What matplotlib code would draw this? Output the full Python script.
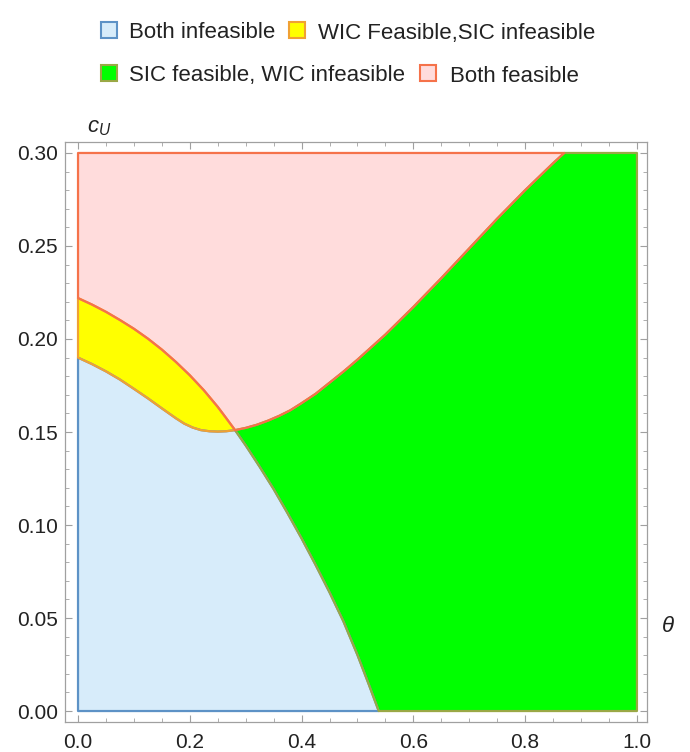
import matplotlib
matplotlib.use("Agg")
import matplotlib.pyplot as plt
from matplotlib.patches import Rectangle
from matplotlib.ticker import MultipleLocator

plt.rcParams['font.family'] = ['Liberation Sans', 'DejaVu Sans']
plt.rcParams['mathtext.fontset'] = 'custom'
plt.rcParams['mathtext.it'] = 'Liberation Sans:italic'
plt.rcParams['mathtext.rm'] = 'Liberation Sans'

# SIC boundary: top of the yellow band, then the blue / green edge
sic_left_x = [0.0, 0.025, 0.05, 0.075, 0.10, 0.125, 0.15, 0.175, 0.20, 0.225, 0.25, 0.265, 0.281]
sic_left_y = [0.222, 0.2185, 0.2146, 0.2102, 0.2055, 0.2002, 0.1943, 0.1877, 0.1805, 0.1725,
              0.1635, 0.1575, 0.151]
sic_right_x = [0.281, 0.30, 0.325, 0.35, 0.375, 0.40, 0.425, 0.45, 0.475, 0.50, 0.52, 0.538]
sic_right_y = [0.151, 0.1428, 0.1313, 0.1193, 0.1063, 0.0928, 0.0786, 0.0638, 0.0481, 0.0301,
               0.0145, 0.0]

# WIC boundary: bottom of the yellow band, then the pink / green edge
wic_left_x = [0.0, 0.025, 0.05, 0.075, 0.10, 0.125, 0.15, 0.175, 0.19, 0.205, 0.22, 0.235,
              0.25, 0.265, 0.281]
wic_left_y = [0.190, 0.1865, 0.1826, 0.1782, 0.1732, 0.1681, 0.1627, 0.1574, 0.1545, 0.1524,
              0.1510, 0.1504, 0.1502, 0.1504, 0.151]
wic_right_x = [0.281, 0.30, 0.32, 0.34, 0.36, 0.38, 0.40, 0.425, 0.45, 0.475, 0.50, 0.55,
               0.60, 0.65, 0.70, 0.75, 0.80, 0.85, 0.87]
wic_right_y = [0.151, 0.1522, 0.1539, 0.1561, 0.1587, 0.1617, 0.1655, 0.1705, 0.1765, 0.1825,
               0.1889, 0.2024, 0.2172, 0.2327, 0.2487, 0.2647, 0.2800, 0.2945, 0.300]

x_max = 1.0
y_max = 0.30

labels = ["Both infeasible", "WIC Feasible,SIC infeasible",
          "SIC feasible, WIC infeasible", "Both feasible"]
fills = ["#d7ecfa", "#ffff00", "#00ff00", "#ffdcdc"]
edges = ["#5d92c6", "#f0a133", "#9aa845", "#f5724a"]


def px(x):
    return x / 690


def py(y):
    return 1 - y / 752


# region outlines built from the boundary lists
blue_x = [0.0] + wic_left_x + sic_right_x[1:] + [0.0]
blue_y = [0.0] + wic_left_y + sic_right_y[1:] + [0.0]
yellow_x = wic_left_x + sic_left_x[::-1]
yellow_y = wic_left_y + sic_left_y[::-1]
pink_x = sic_left_x + wic_right_x[1:] + [0.0]
pink_y = sic_left_y + wic_right_y[1:] + [y_max]
green_x = sic_right_x + [x_max, x_max] + wic_right_x[::-1]
green_y = sic_right_y + [0.0, y_max] + wic_right_y[::-1]

regions = [(blue_x, blue_y), (yellow_x, yellow_y), (green_x, green_y), (pink_x, pink_y)]

fig = plt.figure(figsize=(6.9, 7.52), dpi=100)
ax = fig.add_axes([px(65), py(722), 582 / 690, 580 / 752])

for (rx, ry), fc in zip(regions, fills):
    ax.fill(rx, ry, facecolor=fc, edgecolor="none", zorder=1)

# outlines: later ones sit on top of shared edges
for i in [0, 2, 1, 3]:
    rx, ry = regions[i]
    ax.fill(rx, ry, facecolor="none", edgecolor=edges[i], lw=1.6,
            joinstyle="round", zorder=2 + i)

ax.set_xlim(-0.0233, 1.018)
ax.set_ylim(-0.0059, 0.3059)
ax.xaxis.set_major_locator(MultipleLocator(0.2))
ax.xaxis.set_minor_locator(MultipleLocator(0.05))
ax.yaxis.set_major_locator(MultipleLocator(0.05))
ax.yaxis.set_minor_locator(MultipleLocator(0.01))
ax.xaxis.set_major_formatter(plt.FormatStrFormatter("%.1f"))
ax.yaxis.set_major_formatter(plt.FormatStrFormatter("%.2f"))

for s in ax.spines.values():
    s.set_color("#a0a0a0")
    s.set_linewidth(0.9)
ax.tick_params(which="both", direction="in", top=True, right=True,
               colors="#a0a0a0", labelcolor="#222222", labelsize=15)
ax.tick_params(which="major", length=5, width=0.8)
ax.tick_params(which="minor", length=3, width=0.6)
ax.tick_params(axis="y", pad=5)
ax.tick_params(axis="x", pad=8)

fig.text(px(99), py(128), "$c_U$", fontsize=16, ha="center", va="center", color="#222222")
fig.text(px(668), py(627), r"$\theta$", fontsize=16, ha="center", va="center", color="#222222")

# legend, two rows
rows = [(30, [(101, 129, 0), (289, 318, 1)]),
        (73, [(101, 129, 2), (420, 450, 3)])]
for ycen, items in rows:
    for sx, tx, k in items:
        fig.add_artist(Rectangle((px(sx), py(ycen + 8)), 16 / 690, 16 / 752,
                                 transform=fig.transFigure, facecolor=fills[k],
                                 edgecolor=edges[k], lw=1.5))
        fig.text(px(tx), py(ycen + 3), labels[k], fontsize=16, va="center",
                 ha="left", color="#222222")

fig.savefig("out.png", dpi=100)
